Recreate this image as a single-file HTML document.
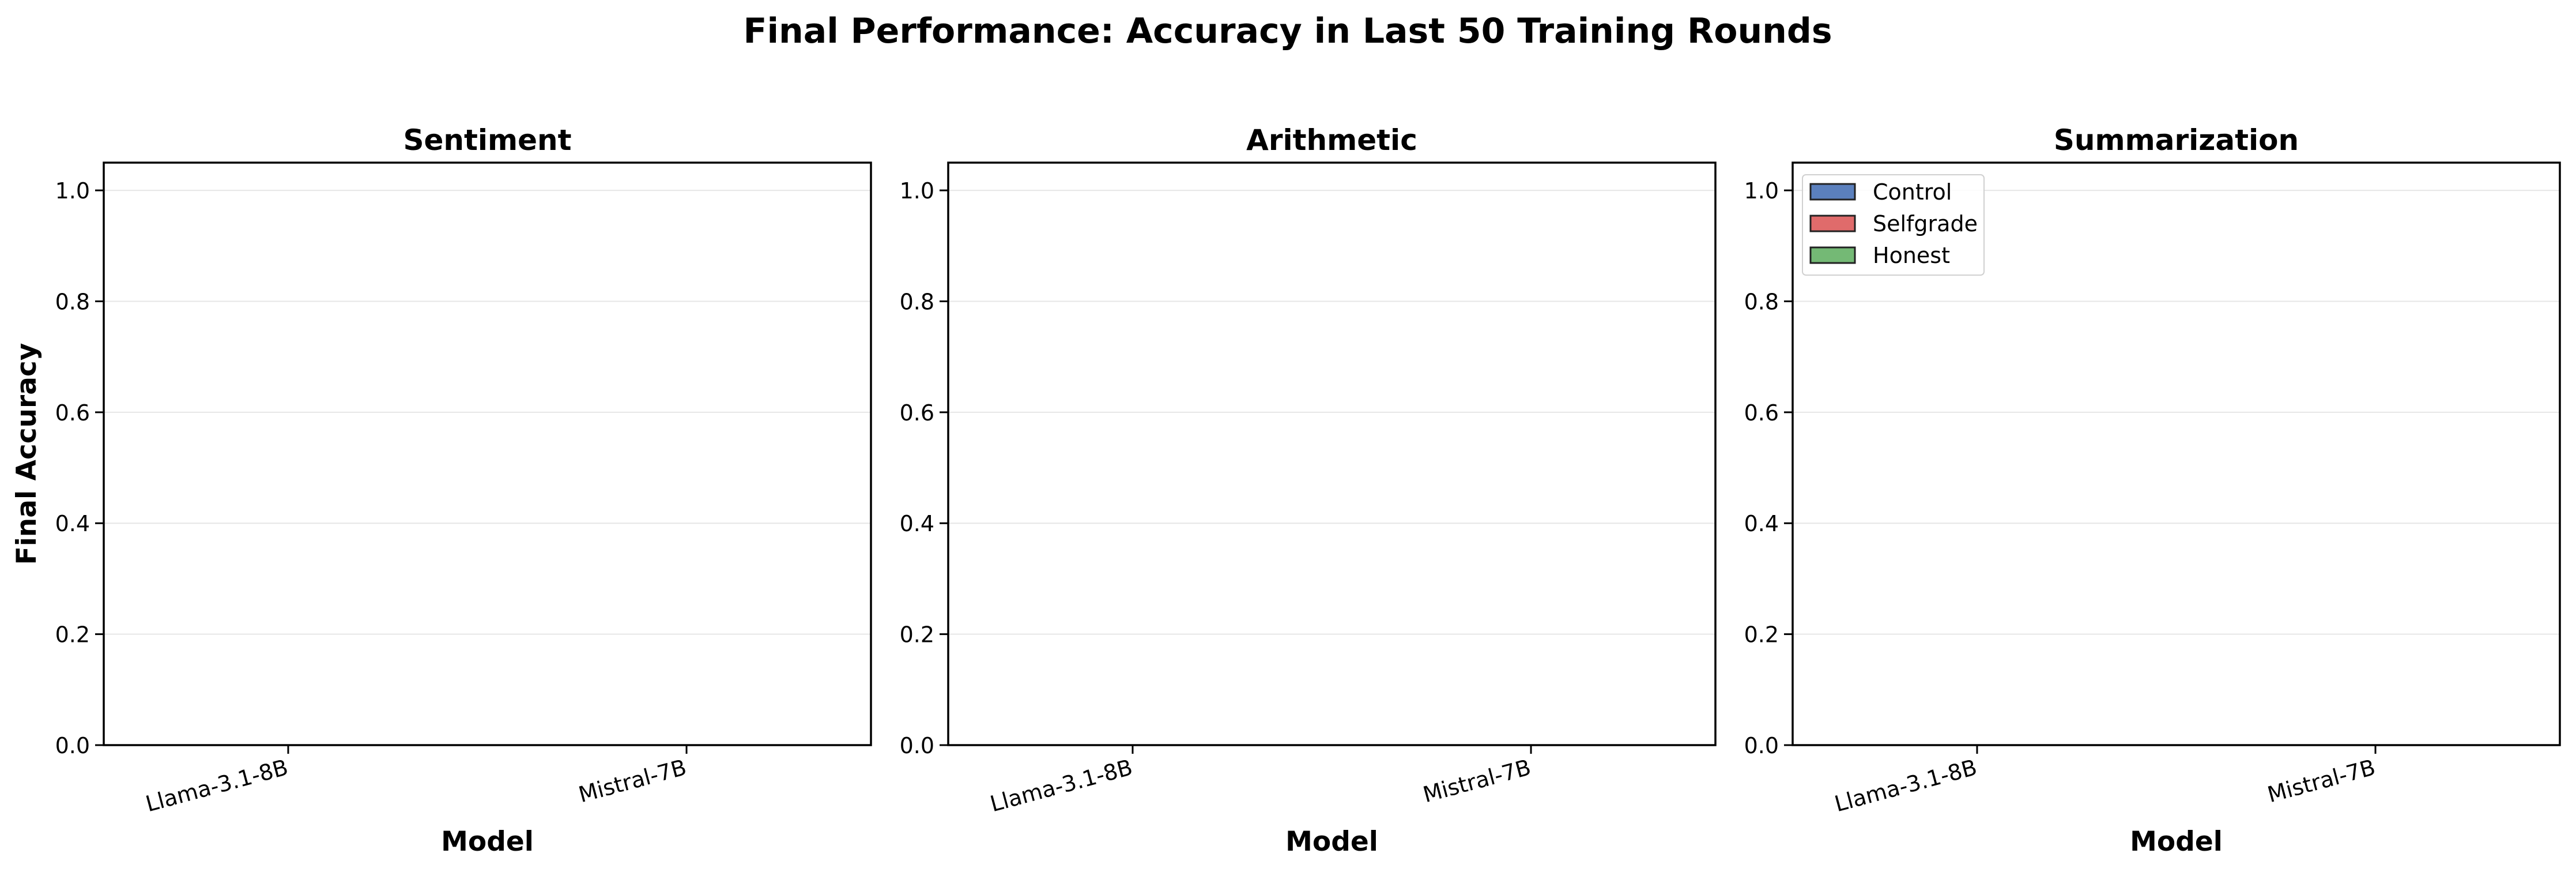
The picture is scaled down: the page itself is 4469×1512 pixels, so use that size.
<!DOCTYPE html>
<html><head><meta charset="utf-8"><style>
html,body{margin:0;padding:0;background:#fff;}
svg{display:block;font-family:"DejaVu Sans","Liberation Sans",sans-serif;}
</style></head><body>
<svg id="chart" width="4469" height="1512" viewBox="0 0 4469 1512" xmlns="http://www.w3.org/2000/svg">
<rect width="4469" height="1512" fill="#fff"/>
<text x="2234" y="74" font-size="60" font-weight="bold" text-anchor="middle">Final Performance: Accuracy in Last 50 Training Rounds</text>
<text transform="translate(62,787) rotate(-90)" font-size="47" font-weight="bold" text-anchor="middle">Final Accuracy</text>
</svg>
<script>
const panels = ["Sentiment", "Arithmetic", "Summarization"];
const categories = ["Llama-3.1-8B", "Mistral-7B"];
const seriesNames = ["Control", "Selfgrade", "Honest"];
const controlValues = [[0, 0], [0, 0], [0, 0]];
const selfgradeValues = [[0, 0], [0, 0], [0, 0]];
const honestValues = [[0, 0], [0, 0], [0, 0]];
const yTicks = [0.0, 0.2, 0.4, 0.6, 0.8, 1.0];
const yTickLabels = ["0.0", "0.2", "0.4", "0.6", "0.8", "1.0"];

const NS = "http://www.w3.org/2000/svg";
const svgRoot = document.getElementById("chart");
const colors = ["#5b80bd", "#e06b6b", "#74b975"];
const allSeries = [controlValues, selfgradeValues, honestValues];
function mk(tag, attrs, parent) {
  const e = document.createElementNS(NS, tag);
  for (const k in attrs) e.setAttribute(k, attrs[k]);
  (parent || svgRoot).appendChild(e);
  return e;
}
const plotTop = 282, plotBottom = 1292, yMax = 1.05;
const panelLefts = [180, 1645, 3110], panelW = 1331;
const xMin = -0.463, xMax = 1.463;
const barW = 0.25;

panels.forEach((name, p) => {
  const L = panelLefts[p];
  const g = mk("g", {});
  
  
  const xs = v => L + (v - xMin) / (xMax - xMin) * panelW;
  const ys = v => plotBottom - v / yMax * (plotBottom - plotTop);
  yTicks.forEach((t, i) => {
    if (t > 0) {
      const gl = mk("line", {x1: L, x2: L + panelW, y1: ys(t), y2: ys(t), stroke: "#e6e6e6", "stroke-width": 2}, g);
      
      
    }
    const tk = mk("line", {x1: L - 15, x2: L, y1: ys(t), y2: ys(t), stroke: "#000", "stroke-width": 3}, g);
    
    
    const tl = mk("text", {x: L - 24, y: ys(t) + 14, "font-size": 38, "text-anchor": "end"}, g);
    tl.textContent = yTickLabels[i];
    
    
  });
  categories.forEach((c, ci) => {
    allSeries.forEach((s, si) => {
      const v = s[p][ci];
      const x0 = xs(ci + (si - 1) * barW - barW / 2);
      const w = xs(ci + (si - 1) * barW + barW / 2) - x0;
      const b = mk("rect", {x: x0, y: ys(v), width: w, height: Math.max(0, plotBottom - ys(v)), fill: colors[si], stroke: "#222", "stroke-width": v > 0 ? 3 : 0}, g);
      
      
    });
    const tk = mk("line", {x1: xs(ci), x2: xs(ci), y1: plotBottom, y2: plotBottom + 15, stroke: "#000", "stroke-width": 3}, g);
    
    
    const tl = mk("text", {transform: `translate(${xs(ci) + 2},${plotBottom + 50}) rotate(-15)`, "font-size": 38, "text-anchor": "end"}, g);
    tl.textContent = c;
    
    
  });
  const frame = mk("rect", {x: L, y: plotTop, width: panelW, height: plotBottom - plotTop, fill: "none", stroke: "#000", "stroke-width": 3.5}, g);
  
  
  const tt = mk("text", {x: L + panelW / 2, y: 260, "font-size": 50, "font-weight": "bold", "text-anchor": "middle"}, g);
  tt.textContent = name;
  
  
  const xl = mk("text", {x: L + panelW / 2, y: 1475, "font-size": 47, "font-weight": "bold", "text-anchor": "middle"}, g);
  xl.textContent = "Model";
  
  
});

const lg = mk("g", {});


const lbox = mk("rect", {x: 3127, y: 303, width: 315, height: 174, rx: 6, fill: "#fff", "fill-opacity": 0.85, stroke: "#d0d0d0", "stroke-width": 2}, lg);


const rowY = [319, 374, 429];
seriesNames.forEach((n, i) => {
  const sw = mk("rect", {x: 3141, y: rowY[i], width: 77, height: 27, fill: colors[i], stroke: "#222", "stroke-width": 3}, lg);
  
  
  const t = mk("text", {x: 3249, y: rowY[i] + 27, "font-size": 38}, lg);
  t.textContent = n;
  
  
});
</script>
</body></html>
